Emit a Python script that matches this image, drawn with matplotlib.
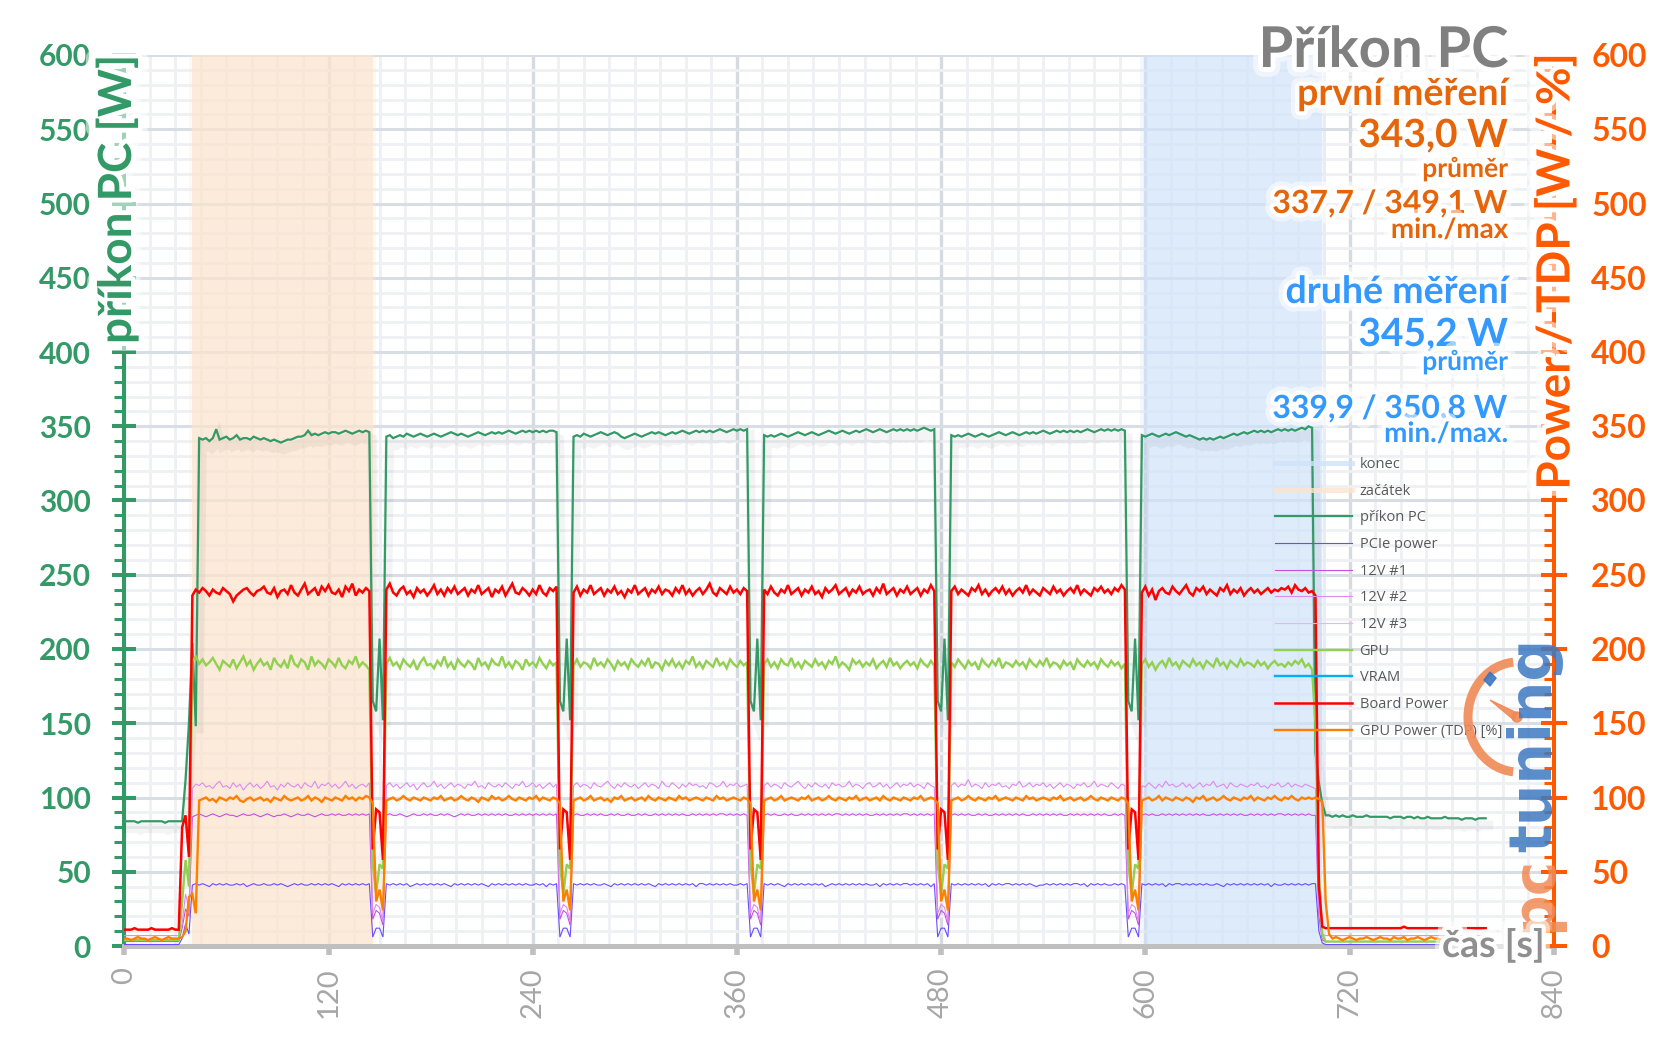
import numpy as np
import matplotlib.pyplot as plt
from matplotlib import patheffects as pe
from matplotlib.lines import Line2D
from matplotlib.patches import Arc, Circle, Polygon

plt.rcParams['font.family'] = ['Lato', 'DejaVu Sans']

W_PX, H_PX = 1657, 1044
STEP = 2  # one sample every 2 s

## -------------------- data (one row = 20 s) -------------------- ##
pc_power = [
    84, 84, 84, 84, 83, 84, 84, 84, 84, 84,
    84, 84, 83, 84, 84, 84, 84, 84, 112, 150,
    204, 148, 342, 341, 342, 340, 342, 348, 341, 342,
    343, 341, 342, 344, 341, 342, 342, 341, 343, 342,
    341, 342, 341, 340, 341, 340, 339, 340, 341, 341,
    342, 343, 343, 344, 347, 344, 345, 344, 345, 346,
    345, 346, 346, 345, 346, 347, 346, 345, 346, 347,
    346, 347, 346, 165, 158, 207, 152, 343, 344, 342,
    343, 344, 343, 345, 344, 343, 344, 345, 344, 343,
    344, 345, 344, 343, 344, 345, 346, 345, 344, 345,
    344, 343, 344, 345, 346, 345, 344, 345, 346, 345,
    346, 345, 346, 347, 346, 345, 346, 347, 346, 347,
    346, 347, 346, 347, 346, 347, 347, 346, 165, 158,
    207, 152, 343, 344, 343, 345, 344, 343, 344, 345,
    346, 345, 344, 345, 346, 345, 343, 342, 343, 344,
    345, 344, 343, 344, 345, 346, 345, 346, 345, 344,
    345, 346, 345, 346, 347, 346, 345, 346, 347, 346,
    347, 346, 347, 346, 347, 348, 347, 346, 347, 348,
    347, 348, 347, 348, 165, 158, 207, 152, 344, 343,
    344, 343, 344, 345, 344, 343, 344, 345, 346, 345,
    344, 345, 346, 345, 344, 345, 346, 347, 346, 345,
    346, 347, 346, 345, 346, 347, 346, 347, 348, 347,
    346, 347, 348, 347, 346, 347, 348, 347, 348, 347,
    348, 347, 348, 347, 348, 349, 348, 347, 348, 165,
    158, 207, 152, 344, 343, 344, 343, 344, 345, 344,
    343, 344, 345, 344, 343, 344, 345, 346, 345, 344,
    345, 346, 345, 344, 345, 346, 345, 346, 345, 346,
    347, 346, 345, 346, 347, 346, 347, 346, 347, 346,
    347, 346, 347, 348, 347, 346, 347, 348, 347, 348,
    347, 348, 347, 348, 347, 165, 158, 207, 152, 344,
    343, 344, 345, 344, 343, 344, 345, 344, 345, 346,
    345, 344, 343, 344, 343, 342, 341, 342, 341, 342,
    341, 342, 343, 342, 343, 344, 345, 344, 345, 346,
    345, 346, 347, 346, 347, 346, 347, 346, 347, 348,
    347, 348, 347, 348, 347, 348, 349, 348, 350, 349,
    130, 110, 96, 88, 88, 87, 88, 87, 88, 87,
    87, 88, 87, 87, 87, 88, 87, 87, 87, 87,
    87, 87, 86, 87, 87, 87, 86, 87, 87, 86,
    87, 86, 86, 87, 86, 86, 86, 86, 87, 86,
    86, 86, 86, 85, 86, 86, 86, 85, 86, 86,
    86,
]

pcie_power = [
    1, 1, 1, 1, 1, 1, 1, 1, 1, 1,
    1, 1, 1, 1, 1, 1, 1, 5, 15, 8,
    41, 42, 41, 42, 41, 40, 42, 41, 42, 41,
    42, 41, 41, 42, 41, 42, 40, 41, 42, 41,
    41, 42, 41, 41, 42, 41, 42, 41, 40, 41,
    42, 41, 42, 41, 41, 42, 41, 42, 41, 42,
    41, 42, 41, 40, 42, 41, 42, 41, 42, 41,
    42, 41, 42, 6, 12, 12, 6, 42, 41, 42,
    41, 42, 41, 42, 40, 41, 42, 41, 42, 41,
    42, 41, 42, 41, 42, 41, 40, 42, 41, 42,
    41, 42, 41, 42, 41, 42, 41, 40, 42, 41,
    42, 41, 42, 41, 42, 41, 42, 41, 42, 41,
    41, 42, 41, 42, 40, 42, 41, 42, 6, 12,
    12, 6, 42, 41, 42, 41, 42, 41, 42, 41,
    41, 42, 41, 40, 42, 41, 42, 41, 42, 41,
    42, 41, 42, 41, 42, 41, 40, 42, 41, 42,
    41, 42, 41, 42, 41, 42, 41, 42, 40, 42,
    42, 41, 42, 41, 42, 41, 42, 41, 42, 41,
    41, 42, 41, 42, 6, 12, 12, 6, 42, 41,
    42, 41, 42, 41, 40, 42, 41, 42, 41, 42,
    41, 42, 41, 42, 41, 42, 40, 41, 42, 41,
    42, 41, 42, 41, 42, 41, 42, 41, 42, 41,
    41, 42, 40, 42, 41, 42, 41, 42, 41, 42,
    42, 41, 42, 41, 42, 41, 42, 40, 42, 6,
    12, 12, 6, 42, 41, 42, 41, 42, 41, 42,
    41, 42, 41, 42, 40, 42, 41, 42, 41, 42,
    42, 41, 42, 41, 42, 41, 42, 41, 40, 41,
    41, 42, 41, 42, 41, 42, 41, 42, 41, 42,
    42, 41, 42, 40, 42, 41, 42, 41, 42, 41,
    41, 42, 41, 42, 41, 6, 12, 12, 6, 42,
    41, 42, 41, 42, 41, 42, 40, 42, 41, 42,
    42, 41, 42, 41, 42, 41, 42, 41, 42, 41,
    41, 42, 41, 40, 42, 41, 42, 41, 42, 41,
    42, 41, 42, 41, 42, 41, 42, 40, 42, 41,
    41, 42, 41, 42, 41, 42, 41, 42, 41, 42,
    42, 10, 2, 1, 1, 1, 1, 1, 1, 1,
    1, 1, 1, 1, 1, 1, 1, 1, 1, 1,
    1, 1, 1, 1, 1, 1, 1, 1, 1, 1,
    1, 1, 1, 1, 1, 1, 1, 1, 1, 1,
    1, 1, 1, 1, 1, 1, 1, 1, 1, 1,
    1,
]

v12_1 = [
    3, 3, 3, 3, 3, 3, 3, 3, 3, 3,
    3, 3, 3, 3, 3, 3, 3, 12, 25, 20,
    87, 88, 89, 88, 87, 88, 89, 88, 87, 88,
    89, 88, 88, 87, 88, 89, 88, 88, 89, 88,
    87, 88, 89, 88, 87, 88, 88, 89, 88, 87,
    88, 89, 88, 88, 89, 88, 87, 88, 89, 88,
    88, 89, 88, 89, 88, 88, 89, 88, 89, 88,
    89, 88, 89, 18, 24, 22, 14, 88, 89, 88,
    88, 89, 88, 87, 88, 89, 88, 88, 89, 88,
    89, 88, 88, 89, 88, 89, 88, 87, 88, 89,
    88, 89, 88, 88, 89, 88, 89, 88, 89, 88,
    89, 88, 89, 88, 88, 89, 88, 89, 88, 89,
    88, 89, 88, 89, 88, 89, 88, 89, 18, 24,
    22, 14, 88, 89, 88, 88, 89, 88, 89, 88,
    89, 88, 88, 89, 88, 89, 88, 88, 89, 88,
    88, 89, 88, 89, 88, 88, 89, 88, 89, 88,
    89, 88, 89, 88, 89, 88, 88, 89, 88, 89,
    88, 89, 88, 89, 88, 89, 89, 88, 89, 88,
    89, 88, 89, 88, 18, 24, 22, 14, 88, 89,
    88, 89, 88, 88, 89, 88, 89, 88, 88, 89,
    88, 89, 88, 89, 88, 89, 88, 89, 88, 89,
    89, 88, 89, 88, 89, 88, 89, 88, 89, 88,
    88, 89, 88, 89, 88, 89, 88, 89, 88, 89,
    89, 88, 89, 88, 89, 88, 89, 88, 89, 18,
    24, 22, 14, 88, 89, 88, 89, 88, 89, 88,
    88, 89, 88, 89, 88, 88, 89, 88, 89, 88,
    89, 88, 89, 88, 89, 88, 88, 89, 88, 89,
    88, 89, 88, 89, 88, 89, 88, 88, 89, 88,
    89, 88, 89, 88, 89, 88, 89, 88, 89, 88,
    88, 89, 88, 89, 88, 18, 24, 22, 14, 88,
    89, 88, 89, 88, 88, 89, 88, 89, 88, 89,
    88, 89, 88, 89, 88, 89, 88, 89, 88, 88,
    89, 88, 89, 88, 89, 88, 89, 88, 89, 88,
    88, 89, 88, 89, 88, 89, 88, 89, 88, 89,
    89, 88, 89, 88, 89, 88, 89, 88, 89, 88,
    88, 20, 4, 3, 3, 3, 3, 3, 3, 3,
    3, 3, 3, 3, 3, 3, 3, 3, 3, 3,
    3, 3, 3, 3, 3, 3, 3, 3, 3, 3,
    3, 3, 3, 3, 3, 3, 3, 3, 3, 3,
    3, 3, 3, 3, 3, 3, 3, 3, 3, 3,
    3,
]

v12_2 = [
    7, 7, 7, 7, 7, 7, 7, 7, 7, 7,
    7, 7, 7, 7, 7, 7, 7, 15, 35, 25,
    106, 109, 108, 110, 107, 108, 106, 109, 111, 107,
    108, 106, 110, 107, 109, 105, 108, 110, 107, 109,
    106, 108, 111, 107, 108, 105, 109, 107, 110, 108,
    107, 109, 106, 110, 108, 107, 111, 106, 109, 108,
    110, 107, 109, 106, 108, 111, 107, 109, 106, 108,
    109, 107, 110, 22, 28, 26, 16, 108, 110, 107,
    109, 106, 108, 110, 107, 109, 105, 108, 110, 107,
    108, 111, 107, 109, 106, 108, 110, 107, 109, 108,
    106, 109, 108, 111, 107, 108, 106, 110, 108, 107,
    109, 107, 110, 108, 106, 109, 108, 111, 107, 108,
    110, 107, 109, 106, 108, 110, 107, 109, 22, 28,
    26, 16, 108, 110, 107, 109, 108, 106, 110, 108,
    107, 109, 111, 108, 106, 109, 107, 110, 108, 107,
    109, 106, 108, 110, 107, 109, 108, 106, 111, 108,
    107, 110, 108, 106, 109, 107, 110, 108, 109, 107,
    108, 106, 110, 109, 107, 108, 111, 107, 109, 108,
    110, 107, 108, 109, 22, 28, 26, 16, 108, 110,
    107, 109, 108, 106, 110, 108, 107, 109, 111, 108,
    106, 109, 107, 110, 108, 107, 109, 106, 110, 108,
    109, 107, 108, 111, 107, 109, 108, 106, 109, 110,
    107, 108, 110, 107, 109, 106, 108, 110, 107, 109,
    108, 110, 107, 109, 108, 106, 110, 108, 107, 22,
    28, 26, 16, 108, 110, 107, 109, 108, 112, 107,
    109, 108, 106, 110, 107, 109, 108, 110, 107, 108,
    106, 109, 108, 111, 107, 108, 110, 107, 109, 108,
    110, 107, 109, 106, 108, 110, 107, 109, 108, 106,
    109, 108, 110, 107, 108, 111, 107, 109, 108, 107,
    110, 108, 106, 109, 108, 22, 28, 26, 16, 108,
    107, 110, 108, 106, 109, 107, 111, 108, 109, 107,
    108, 110, 107, 109, 106, 108, 110, 107, 109, 108,
    111, 107, 108, 109, 106, 110, 108, 107, 109, 108,
    107, 109, 108, 110, 107, 108, 106, 109, 108, 110,
    107, 108, 110, 107, 109, 108, 107, 109, 108, 107,
    106, 25, 8, 7, 7, 7, 7, 7, 7, 7,
    7, 7, 7, 7, 7, 7, 7, 7, 7, 7,
    7, 7, 7, 7, 7, 7, 7, 7, 7, 7,
    7, 7, 7, 7, 7, 7, 7, 7, 7, 7,
    7, 7, 7, 7, 7, 7, 7, 7, 7, 7,
    7,
]

gpu_power = [
    4, 4, 4, 4, 4, 4, 4, 4, 4, 4,
    4, 4, 4, 4, 4, 4, 4, 30, 58, 40,
    192, 195, 190, 193, 189, 191, 194, 190, 186, 192,
    190, 188, 193, 187, 191, 195, 189, 192, 186, 190,
    193, 189, 191, 186, 194, 190, 188, 192, 187, 196,
    190, 188, 193, 191, 186, 195, 189, 192, 190, 187,
    193, 191, 188, 194, 189, 187, 192, 190, 195, 188,
    191, 189, 186, 55, 35, 55, 52, 190, 194, 189,
    191, 187, 193, 190, 188, 192, 186, 191, 194, 189,
    190, 187, 192, 189, 195, 188, 191, 186, 193, 190,
    188, 192, 190, 186, 194, 189, 191, 187, 193, 190,
    189, 195, 188, 191, 187, 192, 190, 186, 193, 189,
    191, 188, 194, 190, 187, 192, 189, 191, 55, 35,
    55, 52, 189, 193, 188, 191, 190, 187, 194, 189,
    191, 188, 193, 190, 186, 192, 189, 191, 187, 193,
    190, 188, 192, 189, 194, 187, 191, 190, 186, 192,
    189, 193, 188, 191, 187, 192, 190, 195, 188, 191,
    187, 192, 190, 188, 194, 189, 191, 187, 193, 190,
    188, 192, 189, 191, 55, 35, 55, 52, 190, 193,
    188, 191, 187, 193, 190, 189, 194, 188, 191, 187,
    192, 190, 188, 193, 189, 191, 187, 192, 190, 195,
    188, 191, 189, 186, 193, 190, 192, 188, 191, 189,
    193, 187, 190, 192, 188, 194, 189, 191, 187, 190,
    192, 189, 191, 187, 193, 190, 188, 192, 189, 55,
    35, 55, 52, 191, 188, 193, 190, 187, 192, 189,
    191, 186, 193, 190, 188, 192, 189, 194, 187, 191,
    190, 188, 192, 189, 191, 187, 193, 190, 188, 192,
    189, 194, 188, 191, 190, 187, 192, 189, 191, 186,
    193, 190, 188, 192, 189, 191, 187, 193, 190, 188,
    192, 189, 191, 187, 190, 55, 35, 55, 52, 190,
    193, 188, 191, 186, 190, 192, 188, 194, 189, 191,
    187, 192, 190, 188, 193, 189, 191, 187, 192, 190,
    188, 194, 189, 191, 187, 192, 190, 188, 193, 189,
    191, 190, 188, 192, 189, 191, 187, 190, 192, 189,
    190, 188, 191, 189, 192, 190, 193, 188, 190, 186,
    150, 50, 8, 3, 3, 3, 3, 3, 3, 3,
    3, 3, 3, 3, 3, 3, 3, 3, 3, 3,
    3, 3, 3, 3, 3, 3, 3, 3, 3, 3,
    3, 3, 3, 3, 3, 3, 3, 3, 3, 3,
    3, 3, 3, 3, 3, 3, 3, 3, 3, 3,
    3,
]

board_power = [
    11, 11, 11, 12, 11, 11, 11, 11, 12, 11,
    11, 11, 11, 11, 12, 11, 11, 80, 88, 60,
    236, 240, 238, 241, 239, 236, 240, 238, 237, 241,
    239, 237, 232, 236, 238, 240, 241, 238, 236, 239,
    240, 242, 238, 237, 241, 235, 239, 240, 237, 243,
    238, 236, 240, 244, 237, 239, 241, 236, 242, 239,
    243, 238, 237, 240, 235, 242, 239, 244, 236, 240,
    238, 241, 239, 65, 92, 90, 58, 240, 244, 238,
    236, 240, 242, 237, 239, 235, 241, 238, 240, 236,
    239, 243, 237, 240, 236, 241, 238, 242, 237, 239,
    241, 236, 240, 238, 243, 237, 239, 241, 235, 240,
    238, 242, 236, 240, 244, 238, 237, 241, 239, 236,
    240, 237, 243, 238, 236, 241, 239, 242, 65, 92,
    90, 58, 238, 242, 236, 240, 238, 243, 237, 239,
    241, 236, 240, 238, 242, 237, 239, 235, 240, 238,
    243, 237, 239, 241, 236, 240, 238, 242, 237, 240,
    239, 236, 241, 238, 243, 237, 240, 236, 239, 241,
    237, 240, 244, 238, 236, 241, 239, 237, 242, 238,
    240, 237, 241, 239, 65, 92, 90, 58, 240, 237,
    242, 238, 236, 240, 238, 243, 237, 239, 241, 236,
    240, 238, 242, 237, 239, 235, 241, 238, 240, 243,
    237, 239, 241, 236, 240, 238, 242, 237, 239, 240,
    236, 241, 238, 244, 237, 239, 241, 236, 240, 238,
    242, 237, 239, 241, 236, 240, 238, 243, 239, 65,
    92, 90, 58, 239, 242, 237, 240, 238, 236, 241,
    239, 243, 237, 240, 236, 239, 241, 238, 242, 237,
    240, 236, 239, 241, 238, 243, 237, 240, 238, 236,
    241, 239, 237, 242, 238, 240, 236, 239, 241, 238,
    243, 237, 240, 238, 236, 241, 239, 242, 238, 240,
    237, 241, 239, 243, 240, 65, 92, 90, 58, 238,
    242, 236, 240, 233, 239, 241, 238, 237, 242, 239,
    237, 240, 243, 238, 236, 241, 239, 242, 237, 240,
    238, 236, 241, 239, 243, 237, 240, 238, 241, 236,
    239, 241, 238, 240, 237, 239, 241, 238, 240, 239,
    241, 240, 242, 238, 243, 240, 239, 241, 238, 239,
    236, 40, 13, 12, 12, 12, 12, 12, 12, 12,
    12, 12, 12, 12, 12, 12, 12, 12, 12, 12,
    12, 12, 12, 12, 12, 12, 13, 12, 12, 12,
    12, 12, 12, 12, 12, 12, 12, 12, 12, 12,
    12, 12, 12, 12, 12, 12, 12, 12, 12, 12,
    12,
]

tdp_percent = [
    5, 5, 4, 5, 6, 5, 5, 4, 5, 6,
    5, 4, 5, 6, 5, 5, 5, 6, 10, 33,
    35, 22, 98, 99, 100, 98, 99, 97, 100, 99,
    98, 100, 99, 101, 98, 97, 99, 100, 98, 99,
    100, 98, 99, 97, 100, 99, 98, 101, 99, 98,
    99, 100, 98, 99, 101, 98, 100, 99, 97, 100,
    99, 98, 100, 99, 98, 101, 99, 100, 98, 100,
    99, 101, 100, 96, 30, 38, 24, 98, 99, 100,
    98, 99, 101, 99, 98, 100, 99, 98, 100, 99,
    98, 100, 99, 101, 98, 99, 100, 98, 99, 101,
    99, 98, 100, 99, 97, 100, 99, 98, 101, 99,
    100, 98, 99, 101, 99, 98, 100, 99, 98, 100,
    99, 101, 98, 100, 99, 98, 100, 99, 96, 30,
    38, 24, 98, 99, 100, 98, 99, 101, 98, 99,
    100, 98, 99, 97, 100, 99, 101, 98, 99, 100,
    98, 99, 100, 98, 101, 99, 98, 100, 99, 98,
    100, 99, 98, 101, 99, 100, 98, 99, 100, 99,
    98, 100, 99, 98, 101, 99, 100, 98, 99, 100,
    99, 98, 100, 99, 96, 30, 38, 24, 98, 99,
    100, 98, 99, 101, 98, 99, 100, 99, 98, 100,
    99, 101, 98, 99, 100, 98, 99, 101, 99, 98,
    100, 99, 98, 100, 99, 101, 98, 99, 100, 98,
    99, 100, 98, 101, 99, 98, 100, 99, 98, 100,
    99, 98, 100, 99, 101, 98, 99, 100, 99, 96,
    30, 38, 24, 98, 99, 100, 98, 99, 101, 99,
    98, 100, 99, 98, 100, 99, 101, 98, 99, 100,
    99, 98, 100, 99, 98, 101, 99, 100, 98, 99,
    100, 99, 98, 100, 99, 101, 98, 99, 100, 98,
    99, 100, 98, 99, 101, 99, 98, 100, 99, 98,
    100, 99, 98, 100, 99, 96, 30, 38, 24, 98,
    99, 100, 98, 99, 101, 98, 100, 99, 98, 100,
    99, 98, 100, 99, 97, 100, 99, 101, 98, 99,
    100, 98, 99, 101, 99, 98, 100, 99, 98, 100,
    99, 101, 98, 100, 99, 98, 100, 99, 101, 99,
    98, 100, 99, 101, 99, 98, 100, 99, 100, 99,
    100, 99, 97, 30, 8, 5, 6, 5, 4, 5,
    6, 5, 4, 5, 5, 6, 5, 4, 5, 6,
    5, 5, 4, 6, 5, 5, 6, 4, 5, 5,
    6, 5, 4, 5, 6, 5, 5, 4, 6, 5,
    5, 4, 5, 6, 5, 4, 5, 6, 5, 5,
    5,
]

span_labels = ['konec', 'začátek']
span_from = [599, 40]
span_to = [704, 146]

title_text = 'Příkon PC'
run1 = ['první měření', '343,0 W', 'průměr', '337,7 / 349,1 W', 'min./max']
run2 = ['druhé měření', '345,2 W', 'průměr', '339,9 / 350,8 W', 'min./max.']

x_ticks = list(range(0, 841, 120))
y_ticks = list(range(0, 601, 50))

## -------------------- colours -------------------- ##
GREEN = '#339966'
ORANGE_AX = '#FF5A00'
ORANGE_TXT = '#E6650A'
BLUE_TXT = '#3399FF'
GREY_TXT = '#808080'

t = np.arange(len(pc_power)) * STEP


def fx(px):
    return px / W_PX


def fy(py):
    return 1 - py / H_PX


def glow(w=7):
    return [pe.Stroke(linewidth=w * 2, foreground='white', alpha=0.55),
            pe.Stroke(linewidth=w, foreground='white'), pe.Normal()]


fig = plt.figure(figsize=(W_PX / 100, H_PX / 100), dpi=100)
ax = fig.add_axes([fx(124.3), fy(946), fx(1553.7) - fx(124.3), fy(55) - fy(946)])
ax.set_xlim(0, 840)
ax.set_ylim(0, 600)
ax.set_axisbelow(True)

# grid
ax.set_xticks(x_ticks)
ax.set_xticks(np.arange(0, 841, 15), minor=True)
ax.set_yticks(y_ticks)
ax.set_yticks(np.arange(0, 601, 10), minor=True)
ax.grid(which='major', axis='y', color='#D9DDE4', lw=2.2)
ax.grid(which='major', axis='x', color='#D6DAE1', lw=2.4)
ax.grid(which='minor', color='#EEF0F4', lw=2.0)

# shaded start / end windows
span_cols = {'konec': '#CFE3FA', 'začátek': '#FCE4CF'}
span_alpha = {'konec': 0.58, 'začátek': 0.68}
for lab, a, b in zip(span_labels, span_from, span_to):
    ax.axvspan(a - 2, b + 2, color=span_cols[lab], alpha=0.22, lw=0, zorder=1)
    ax.axvspan(a, b, color=span_cols[lab], alpha=span_alpha[lab], lw=0, zorder=1)

shadow = [pe.SimpleLineShadow(offset=(2, -5), shadow_color='k', alpha=0.045, linewidth=7),
          pe.Normal()]

series = [
    (pc_power, 'příkon PC', GREEN, 1.6, shadow),
    (pcie_power, 'PCIe power', '#6A4CFF', 0.8, None),
    (v12_1, '12V #1', '#C84FE0', 0.8, None),
    (v12_2, '12V #2', '#DC8CEA', 0.8, None),
    (gpu_power, 'GPU', '#92D050', 1.7, None),
    (board_power, 'Board Power', '#FF0000', 1.8, None),
    (tdp_percent, 'GPU Power (TDP) [%]', '#FF8000', 1.7, None),
]
lines = {}
for i, (vals, lab, col, lw, fx_) in enumerate(series):
    ln, = ax.plot(t, vals, color=col, lw=lw, zorder=3 + i * 0.1, solid_joinstyle='miter')
    if fx_:
        ln.set_path_effects(fx_)
    lines[lab] = ln

# axes styling
for s in ['top', 'right']:
    ax.spines[s].set_visible(False)
ax.spines['left'].set_color(GREEN)
ax.spines['left'].set_linewidth(2.9)
ax.spines['bottom'].set_color('#BFBFBF')
ax.spines['bottom'].set_linewidth(3.6)
ax.tick_params(axis='y', which='major', direction='inout', length=17, width=2.9,
               color=GREEN, pad=15.5, labelsize=21.5, labelcolor=GREEN)
ax.tick_params(axis='y', which='minor', direction='out', length=7, width=2.2, color=GREEN)
ax.tick_params(axis='x', which='major', direction='out', length=6.5, width=4,
               color='#BFBFBF', pad=9, labelsize=21, labelcolor='#A6A6A6', labelrotation=90)
ax.tick_params(axis='x', which='minor', length=0)
for lb in ax.get_yticklabels():
    lb.set_fontweight('bold')

ax2 = ax.twinx()
ax2.set_ylim(0, 600)
ax2.set_yticks(y_ticks)
ax2.set_yticks(np.arange(0, 601, 10), minor=True)
for s in ['top', 'left', 'bottom']:
    ax2.spines[s].set_visible(False)
ax2.spines['right'].set_color(ORANGE_AX)
ax2.spines['right'].set_linewidth(2.9)
ax2.tick_params(axis='y', which='major', direction='inout', length=19, width=2.9,
                color=ORANGE_AX, pad=17.5, labelsize=23, labelcolor=ORANGE_AX)
ax2.tick_params(axis='y', which='minor', direction='in', length=7, width=2.2, color=ORANGE_AX)
for lb in ax2.get_yticklabels():
    lb.set_fontweight('bold')

# legend
handles = [
    Line2D([], [], color='#CFE3FA', lw=3.6, alpha=0.8),
    Line2D([], [], color='#FCE4CF', lw=3.6, alpha=0.8),
    lines['příkon PC'], lines['PCIe power'], lines['12V #1'], lines['12V #2'],
    Line2D([], [], color='#E9B4F2', lw=0.8),
    lines['GPU'],
    Line2D([], [], color='#00B0F0', lw=1.7),
    lines['Board Power'], lines['GPU Power (TDP) [%]'],
]
labels = ['konec', 'začátek', 'příkon PC', 'PCIe power', '12V #1', '12V #2', '12V #3',
          'GPU', 'VRAM', 'Board Power', 'GPU Power (TDP) [%]']
leg = ax.legend(handles, labels, loc='upper left', bbox_to_anchor=(fx(1275), fy(457)),
                bbox_transform=fig.transFigure, frameon=False, fontsize=10.5,
                handlelength=5.3, handletextpad=0.5, labelspacing=0.8,
                borderpad=0, borderaxespad=0)
for tx in leg.get_texts():
    tx.set_color('#595959')
    tx.set_family(['Open Sans', 'DejaVu Sans'])
for h in leg.legend_handles:
    h.set_path_effects([])
leg.set_zorder(6)

# axis titles
fig.text(fx(117), fy(55), 'příkon PC [W]', rotation=90, ha='center', va='top',
         fontsize=33, fontweight='bold', color=GREEN, path_effects=glow(7))
fig.text(fx(1556), fy(53), 'Power / TDP [W / %]', rotation=90, ha='center', va='top',
         fontsize=33, fontweight='bold', color=ORANGE_AX, path_effects=glow(7))
fig.text(fx(1545), fy(957), 'čas [s]', ha='right', va='baseline',
         fontsize=27, fontweight='bold', color='#8F8F8F', path_effects=glow(6))

# headline block
RX = fx(1508)
fig.text(RX, fy(67), title_text, ha='right', va='baseline', fontsize=40.5,
         fontweight='bold', color=GREY_TXT, path_effects=glow(7))
sizes = [27, 28, 19, 23, 20]
for block, col, bases in [(run1, ORANGE_TXT, [105, 147, 177, 213, 238]),
                          (run2, BLUE_TXT, [303, 346, 370, 418, 442])]:
    for txt, sz, b in zip(block, sizes, bases):
        fig.text(RX, fy(b), txt, ha='right', va='baseline', fontsize=sz,
                 fontweight='bold', color=col, path_effects=glow(6))

# pctuning watermark (pixel overlay)
ov = fig.add_axes([0, 0, 1, 1])
ov.set_xlim(0, W_PX)
ov.set_ylim(H_PX, 0)
ov.axis('off')
ov.patch.set_visible(False)
ov.add_patch(Arc((1518, 717), 100, 110, theta1=95, theta2=265, color='#F08A55',
                 lw=6.5, alpha=0.9))
ov.add_patch(Polygon([[1490, 700], [1517, 713], [1514, 720]], closed=True,
                     color='#F08A55', alpha=0.9))
ov.add_patch(Circle((1517, 717), 5, color='#F08A55', alpha=0.9))
ov.add_patch(Polygon([[1484, 680], [1490, 672], [1496, 678], [1490, 686]], closed=True,
                     color='#3C78C0', alpha=0.9))
ov.text(1551, 932, 'pc', rotation=90, rotation_mode='anchor', ha='left', va='baseline',
        fontsize=42, fontweight='bold', family='DejaVu Sans', color='#F08A55', alpha=0.85)
ov.text(1551, 852, 'tuning', rotation=90, rotation_mode='anchor', ha='left', va='baseline',
        fontsize=42, fontweight='bold', family='DejaVu Sans', color='#3C78C0', alpha=0.85)

fig.savefig('out.png', dpi=100)
